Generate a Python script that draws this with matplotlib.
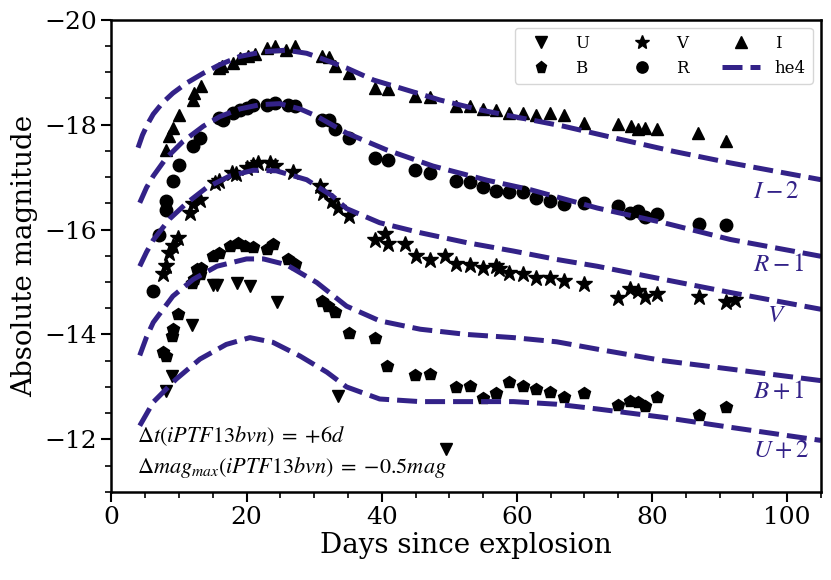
import numpy as np
import matplotlib
matplotlib.use('Agg')
import matplotlib.pyplot as plt

plt.rcParams['font.family'] = ['DejaVu Serif']
plt.rcParams['mathtext.fontset'] = 'stix'

# observed photometry (days since explosion, absolute magnitude)
u_day = [8.1, 9.0, 11.9, 15.1, 15.6, 18.6, 20.5, 24.5, 33.6, 49.5]
u_mag = [-12.93, -13.21, -14.18, -14.94, -14.94, -14.98, -14.92, -14.62, -12.83, -11.82]

b_day = [7.6, 8.1, 8.9, 9.1, 9.9, 11.9, 12.3, 12.6, 13.1, 13.3, 15.1, 16.0, 17.5, 18.8, 19.7,
         21.0, 23.0, 23.9, 26.2, 27.2, 31.1, 32.1, 33.1, 35.1, 39.0, 40.8, 44.9, 47.1, 51.0,
         53.0, 55.0, 56.9, 58.9, 60.9, 62.9, 64.9, 66.9, 70.0, 74.9, 76.8, 77.9, 78.9, 80.8,
         86.9, 90.9]
b_mag = [-13.66, -13.59, -13.97, -14.10, -14.39, -14.99, -15.05, -15.24, -15.15, -15.27, -15.49,
         -15.56, -15.68, -15.75, -15.68, -15.67, -15.62, -15.72, -15.43, -15.34, -14.64, -14.54,
         -14.42, -14.03, -13.94, -13.39, -13.23, -13.25, -13.00, -13.02, -12.78, -12.88, -13.10,
         -13.01, -12.96, -12.91, -12.81, -12.88, -12.66, -12.74, -12.72, -12.64, -12.80, -12.47,
         -12.61]

v_day = [7.6, 8.1, 8.6, 9.1, 9.9, 11.6, 12.1, 13.1, 15.3, 16.0, 17.8, 18.5, 20.0, 21.0, 21.7,
         23.5, 24.2, 26.9, 30.9, 31.3, 32.6, 33.6, 35.1, 39.0, 40.5, 41.0, 43.5, 45.1, 47.1,
         49.3, 51.0, 53.0, 55.0, 56.9, 57.3, 58.9, 60.9, 62.9, 64.9, 66.9, 69.9, 74.9, 76.8,
         77.9, 78.9, 80.8, 86.9, 90.9, 92.3]
v_mag = [-15.15, -15.30, -15.56, -15.68, -15.84, -16.32, -16.48, -16.57, -16.89, -16.92, -17.08,
         -17.05, -17.17, -17.24, -17.27, -17.27, -17.21, -17.09, -16.83, -16.70, -16.54, -16.41,
         -16.25, -15.81, -15.91, -15.72, -15.72, -15.49, -15.42, -15.49, -15.34, -15.32, -15.27,
         -15.30, -15.25, -15.18, -15.15, -15.08, -15.07, -15.02, -14.96, -14.70, -14.86, -14.83,
         -14.72, -14.77, -14.72, -14.61, -14.66]

r_day = [6.2, 7.1, 8.1, 8.1, 9.1, 10.0, 12.1, 13.1, 15.9, 16.5, 18.0, 19.0, 20.0, 21.0, 23.0,
         24.2, 26.2, 27.2, 31.1, 32.2, 33.1, 35.1, 39.0, 41.0, 44.9, 47.1, 51.0, 53.0, 55.0,
         56.9, 58.9, 60.9, 62.9, 64.9, 66.9, 70.0, 74.9, 76.8, 77.9, 78.9, 80.8, 86.9, 90.9]
r_mag = [-14.82, -15.89, -16.54, -16.38, -16.92, -17.24, -17.59, -17.75, -18.13, -18.09, -18.22,
         -18.27, -18.32, -18.38, -18.38, -18.42, -18.38, -18.36, -18.09, -18.08, -17.92, -17.75,
         -17.36, -17.32, -17.13, -17.07, -16.92, -16.90, -16.81, -16.74, -16.71, -16.71, -16.60,
         -16.55, -16.48, -16.50, -16.44, -16.31, -16.35, -16.24, -16.29, -16.11, -16.08]

i_day = [8.1, 8.6, 9.1, 10.0, 12.1, 12.2, 13.2, 15.9, 16.3, 18.0, 19.0, 20.2, 21.2, 23.0, 24.2,
         25.9, 27.2, 31.1, 32.2, 33.1, 35.1, 39.0, 41.0, 44.9, 47.1, 51.0, 53.0, 55.0, 56.9,
         58.9, 60.9, 62.9, 64.9, 66.9, 70.0, 74.9, 76.9, 77.9, 79.0, 80.8, 86.8, 90.9]
i_mag = [-17.51, -17.78, -17.94, -18.19, -18.47, -18.61, -18.73, -19.08, -19.12, -19.18, -19.27,
         -19.30, -19.35, -19.46, -19.49, -19.42, -19.49, -19.30, -19.28, -19.11, -18.99, -18.70,
         -18.68, -18.55, -18.52, -18.36, -18.36, -18.30, -18.27, -18.23, -18.23, -18.18, -18.22,
         -18.19, -18.04, -18.02, -17.98, -17.92, -17.94, -17.92, -17.84, -17.68]

# he4 model curves, already shifted (U+2, B+1, V, R-1, I-2)
mod_i_day = [3.95, 4.6, 5.4, 6.2, 7.6, 9.1, 11.1, 13.6, 16.0, 19.0, 22.5, 25.9, 28.9, 30.9,
             34.8, 38.8, 42.7, 48.6, 54.6, 60.5, 66.9, 74.3, 83.2, 91.6, 105.0]
mod_i_mag = [-17.56, -17.80, -18.02, -18.20, -18.42, -18.60, -18.79, -18.98, -19.14, -19.30,
             -19.39, -19.42, -19.36, -19.27, -19.08, -18.85, -18.70, -18.47, -18.28, -18.13,
             -17.97, -17.75, -17.49, -17.27, -16.95]
mod_r_day = [4.2, 5.2, 6.2, 8.1, 10.6, 13.6, 16.0, 19.0, 22.0, 24.9, 27.9, 30.4, 34.8, 40.7,
             47.6, 55.6, 62.0, 71.9, 81.7, 91.6, 105.0]
mod_r_mag = [-16.51, -16.80, -17.02, -17.36, -17.68, -17.97, -18.15, -18.30, -18.38, -18.40,
             -18.30, -18.16, -17.84, -17.52, -17.21, -16.94, -16.76, -16.41, -16.13, -15.81,
             -15.49]
mod_v_day = [4.2, 5.2, 6.2, 8.6, 11.1, 14.1, 17.5, 21.0, 24.4, 28.9, 32.8, 34.8, 39.7, 45.7,
             52.6, 59.5, 65.9, 71.9, 81.7, 91.6, 105.0]
mod_v_mag = [-15.30, -15.57, -15.80, -16.20, -16.50, -16.80, -17.02, -17.13, -17.12, -16.95,
             -16.63, -16.40, -16.13, -15.94, -15.75, -15.59, -15.43, -15.30, -15.05, -14.80,
             -14.48]
mod_b_day = [4.2, 5.2, 6.2, 9.1, 12.1, 15.6, 20.0, 22.5, 25.9, 30.4, 34.8, 39.7, 45.7, 52.6,
             59.5, 65.9, 71.9, 81.7, 91.6, 105.0]
mod_b_mag = [-13.60, -13.95, -14.23, -14.73, -15.05, -15.30, -15.44, -15.44, -15.33, -14.99,
             -14.54, -14.26, -14.10, -14.00, -13.94, -13.86, -13.72, -13.50, -13.34, -13.12]
mod_u_day = [4.2, 6.2, 9.6, 13.1, 17.0, 20.5, 23.9, 27.9, 31.9, 34.8, 39.7, 45.7, 52.6, 59.5,
             65.9, 71.9, 81.7, 91.6, 105.0]
mod_u_mag = [-12.26, -12.71, -13.15, -13.53, -13.81, -13.94, -13.85, -13.59, -13.28, -13.00,
             -12.77, -12.72, -12.72, -12.72, -12.67, -12.58, -12.42, -12.23, -11.98]

band_labels = ['$I-2$', '$R-1$', '$V$', '$B+1$', '$U+2$']
label_pos = [(98.4, -16.72), (98.7, -15.34), (98.4, -14.36), (98.7, -12.92), (99.1, -11.78)]

model_col = '#332288'

fig, ax = plt.subplots(figsize=(8.31, 5.80), dpi=100)
fig.subplots_adjust(left=0.134, right=0.988, top=0.966, bottom=0.152)

ms = 9
ax.plot(u_day, u_mag, 'kv', ms=ms, ls='none', label='U')
ax.plot(b_day, b_mag, 'kp', ms=ms, ls='none', label='B')
ax.plot(v_day, v_mag, 'k*', ms=ms + 3, ls='none', label='V')
ax.plot(r_day, r_mag, 'ko', ms=ms, ls='none', label='R')
ax.plot(i_day, i_mag, 'k^', ms=ms, ls='none', label='I')

dash = dict(color=model_col, lw=3.6, ls=(0, (4, 1.6)))
ax.plot(mod_u_day, mod_u_mag, label='he4', **dash)
ax.plot(mod_b_day, mod_b_mag, **dash)
ax.plot(mod_v_day, mod_v_mag, **dash)
ax.plot(mod_r_day, mod_r_mag, **dash)
ax.plot(mod_i_day, mod_i_mag, **dash)

for txt, (x, y) in zip(band_labels, label_pos):
    ax.text(x, y, txt, color=model_col, fontsize=18, ha='center', va='center')

ax.text(3.75, -12.06, r'$\Delta t(iPTF13bvn)\;=\;{+}6d$', fontsize=16, va='center')
ax.text(3.75, -11.47, r'$\Delta mag_{max}(iPTF13bvn)\;=\;{-}0.5mag$', fontsize=16, va='center')

ax.set_xlim(0, 105)
ax.set_ylim(-11, -20)
ax.set_xticks(np.arange(0, 101, 20))
ax.set_xticks(np.arange(0, 106, 5), minor=True)
ax.set_yticks(np.arange(-20, -11, 2))
ax.set_yticks(np.arange(-20, -10.9, 0.5), minor=True)
ax.tick_params(which='major', length=7, width=1.5, labelsize=18)
ax.tick_params(which='minor', length=4, width=1.2)
for s in ax.spines.values():
    s.set_linewidth(1.8)

ax.set_xlabel('Days since explosion', fontsize=20, labelpad=2)
ax.set_ylabel('Absolute magnitude', fontsize=20)

ax.legend(ncol=3, loc='upper right', fontsize=12, handlelength=2.3,
          columnspacing=2.0, handletextpad=0.9, markerscale=0.9)

fig.savefig('out.png', dpi=100)
